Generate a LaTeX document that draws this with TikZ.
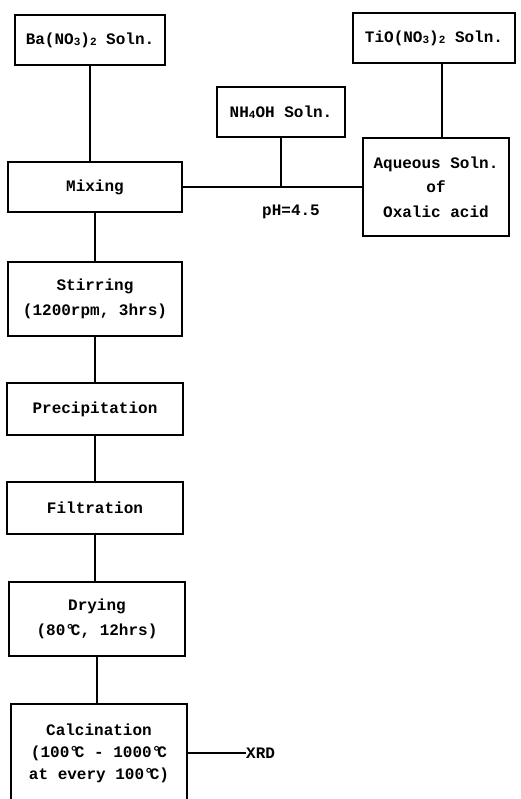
\documentclass[tikz,border=0pt]{standalone}
\usepackage{fontspec}
\setmainfont{Liberation Mono}
\newcommand{\sbs}[1]{\raisebox{-0.15ex}{\fontsize{11}{11}\selectfont #1}}
\newcommand{\degc}{{\char"B0}\kern-0.25em C}
\begin{document}
\begin{tikzpicture}[x=1pt,y=-1pt,
  box/.style={draw,line width=1.6pt,inner sep=0pt,align=center,
    font=\fontsize{16}{24.5}\selectfont\bfseries},
  conn/.style={line width=1.6pt}]
\useasboundingbox (0,0) rectangle (520,799);
\clip (0,0) rectangle (520,799);
\node[box,minimum width=150,minimum height=50] (ba) at (90,40) {Ba(NO\sbs{3})\sbs{2} Soln.};
\node[box,minimum width=174,minimum height=50] (mix) at (95,187) {Mixing};
\node[box,minimum width=174,minimum height=74] (stir) at (95,299) {Stirring\\(1200rpm, 3hrs)};
\node[box,minimum width=176,minimum height=52] (prec) at (95,409) {Precipitation};
\node[box,minimum width=176,minimum height=52] (filt) at (95,508) {Filtration};
\node[box,minimum width=176,minimum height=74] (dry) at (97,619) {Drying\\(80\degc, 12hrs)};
\node[box,minimum width=176,minimum height=98,font=\fontsize{16}{22}\selectfont\bfseries] (calc) at (99,753) {Calcination\\(100\degc{} - 1000\degc\\at every 100\degc)};
\node[box,minimum width=162,minimum height=50] (tio) at (434,38) {TiO(NO\sbs{3})\sbs{2} Soln.};
\node[box,minimum width=128,minimum height=50] (nh4) at (281,112) {NH\sbs{4}OH Soln.};
\node[box,minimum width=146,minimum height=98] (aq) at (436,187) {Aqueous Soln.\\of\\Oxalic acid};
\node[font=\fontsize{16}{18}\selectfont\bfseries,inner sep=0pt] (ph) at (291,212) {pH=4.5};
\node[font=\fontsize{16}{18}\selectfont\bfseries,inner sep=0pt,anchor=west] (xrd) at (246,753) {XRD};
\draw[conn] (ba.south) -- (ba.south |- mix.north);
\draw[conn] (mix.east) -- (mix.east -| aq.west);
\draw[conn] (nh4.south) -- (nh4.south |- mix.east);
\draw[conn] ([xshift=8]tio.south) -- ([xshift=8]tio.south |- aq.north);
\draw[conn] (mix.south) -- (mix.south |- stir.north);
\draw[conn] (stir.south) -- (stir.south |- prec.north);
\draw[conn] (prec.south) -- (prec.south |- filt.north);
\draw[conn] (filt.south) -- (filt.south |- dry.north);
\draw[conn] (dry.south) -- (dry.south |- calc.north);
\draw[conn] (calc.east) -- (xrd.west);
\end{tikzpicture}
\end{document}
